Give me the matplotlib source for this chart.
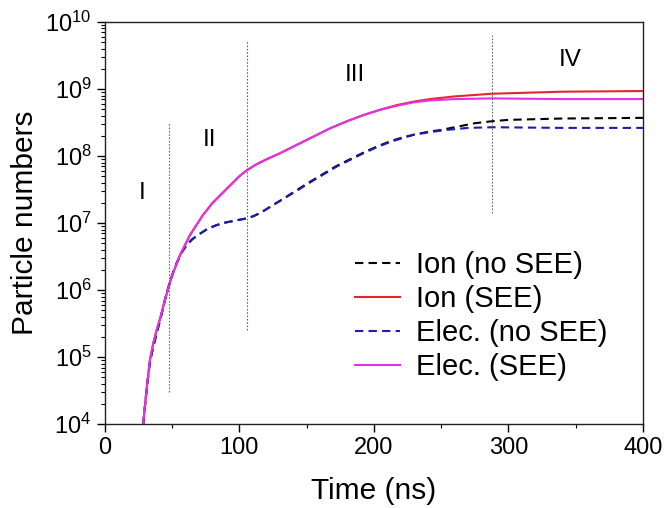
import numpy as np
import matplotlib
matplotlib.use("Agg")
import matplotlib.pyplot as plt
from matplotlib.ticker import MultipleLocator, LogLocator, NullFormatter

plt.rcParams['font.family'] = ['Liberation Sans', 'DejaVu Sans']

# Data (time in ns, log10 of particle numbers)
t_ion_nosee = [28.5, 30.2, 31.5, 33.5, 35.9, 38.4, 41.4, 44.6, 48.3, 51, 53.3, 57, 60.7, 65,
               70.6, 76, 83, 90, 95.2, 100, 105.4, 110, 115.4, 122.7, 130, 142.5, 152, 162,
               172, 182, 192, 202, 212, 221.6, 230, 240, 250, 260, 275, 288, 300, 340, 400]
lg_ion_nosee = [4.0, 4.35, 4.6, 4.93, 5.15, 5.35, 5.58, 5.85, 6.12, 6.28, 6.4, 6.56, 6.67, 6.76,
                6.84, 6.91, 6.97, 7.01, 7.03, 7.05, 7.07, 7.1, 7.15, 7.24, 7.33, 7.49, 7.61, 7.73,
                7.85, 7.95, 8.05, 8.14, 8.22, 8.28, 8.32, 8.36, 8.39, 8.43, 8.49, 8.52, 8.54, 8.56, 8.57]

t_ion_see = [28.5, 30.2, 31.5, 33.5, 35.9, 38.4, 41.4, 44.6, 49.6, 55.8, 63.2, 72.9, 80, 88,
             95, 100, 105, 112, 120, 130, 142, 155, 167, 180, 192, 204.5, 217, 229, 241.6,
             260, 288, 340, 400]
lg_ion_see = [4.0, 4.36, 4.61, 4.96, 5.2, 5.4, 5.6, 5.85, 6.2, 6.52, 6.82, 7.12, 7.3, 7.46,
              7.6, 7.7, 7.78, 7.87, 7.95, 8.04, 8.16, 8.29, 8.41, 8.52, 8.61, 8.69, 8.76, 8.81, 8.85,
              8.89, 8.93, 8.96, 8.97]

t_elec_nosee = [28.5, 30.2, 31.5, 33.5, 35.9, 38.4, 41.4, 44.6, 48.3, 51, 53.3, 57, 60.7, 65,
                70.6, 76, 83, 90, 95.2, 100, 105.4, 110, 115.4, 122.7, 130, 142.5, 152, 162,
                172, 182, 192, 202, 212, 221.6, 230, 239.2, 254, 270, 288, 340, 400]
lg_elec_nosee = [4.0, 4.35, 4.6, 4.93, 5.15, 5.35, 5.58, 5.85, 6.12, 6.28, 6.4, 6.56, 6.67, 6.76,
                 6.84, 6.91, 6.97, 7.01, 7.03, 7.05, 7.07, 7.1, 7.15, 7.24, 7.33, 7.48, 7.6, 7.72,
                 7.84, 7.94, 8.04, 8.13, 8.21, 8.27, 8.32, 8.35, 8.39, 8.42, 8.43, 8.42, 8.42]

t_elec_see = [28.5, 30.2, 31.5, 33.5, 35.9, 38.4, 41.4, 44.6, 49.6, 55.8, 63.2, 72.9, 80, 88,
              95, 100, 105, 112, 120, 130, 142, 155, 167, 180, 192, 204.5, 217, 229, 241.6,
              260, 288, 340, 400]
lg_elec_see = [4.0, 4.36, 4.61, 4.96, 5.2, 5.4, 5.6, 5.85, 6.2, 6.52, 6.82, 7.12, 7.3, 7.46,
               7.6, 7.7, 7.78, 7.87, 7.95, 8.04, 8.16, 8.29, 8.41, 8.52, 8.61, 8.69, 8.75, 8.8, 8.83,
               8.85, 8.86, 8.85, 8.85]

# Phase separators: (time, lower, upper)
sep_t = [48, 105.5, 288]
sep_lo = [3e4, 2.5e5, 1.4e7]
sep_hi = [3.2e8, 5.4e9, 6.3e9]

phase_labels = ["I", "II", "III", "IV"]
phase_t = [27.5, 78, 186, 346]
phase_y = [2.8e7, 1.75e8, 1.6e9, 2.7e9]

fig = plt.figure(figsize=(6.68, 5.08), dpi=100)
ax = fig.add_axes([0.157, 0.165, 0.8056, 0.7917])

lw = 1.5
dash = (0, (4, 2.5))
ax.plot(t_ion_nosee, 10 ** np.array(lg_ion_nosee), color='black', lw=lw,
        ls=dash, label='Ion (no SEE)')
ax.plot(t_ion_see, 10 ** np.array(lg_ion_see), color='#e3262b', lw=lw,
        label='Ion (SEE)')
ax.plot(t_elec_nosee, 10 ** np.array(lg_elec_nosee), color='#1c1cb4', lw=lw,
        ls=dash, label='Elec. (no SEE)')
ax.plot(t_elec_see, 10 ** np.array(lg_elec_see), color='#e233e2', lw=lw,
        label='Elec. (SEE)')

for x, lo, hi in zip(sep_t, sep_lo, sep_hi):
    ax.vlines(x, lo, hi, colors='#666666', linestyles=(0, (1.5, 1.5)), lw=0.8)

for lab, x, y in zip(phase_labels, phase_t, phase_y):
    ax.text(x, y, lab, fontsize=17.5, ha='center', va='center')

ax.set_yscale('log')
ax.set_xlim(0, 400)
ax.set_ylim(1e4, 1e10)
ax.xaxis.set_major_locator(MultipleLocator(100))
ax.xaxis.set_minor_locator(MultipleLocator(50))
ax.yaxis.set_major_locator(LogLocator(base=10, numticks=20))
ax.yaxis.set_minor_locator(LogLocator(base=10, subs=np.arange(2, 10), numticks=100))
ax.yaxis.set_minor_formatter(NullFormatter())

ax.tick_params(which='major', direction='out', length=6, width=1, labelsize=17)
ax.tick_params(which='minor', direction='out', length=3, width=0.8)
for s in ax.spines.values():
    s.set_linewidth(1.0)
    s.set_color('#222222')

ax.set_xlabel('Time (ns)', fontsize=21.5, labelpad=13)
ax.set_ylabel('Particle numbers', fontsize=21.5, labelpad=5)

leg = ax.legend(loc='upper left', bbox_to_anchor=(0.465, 0.43), frameon=False,
                fontsize=21, handlelength=1.55, handletextpad=0.55, labelspacing=0.2,
                borderaxespad=0, borderpad=0)

fig.savefig('out.png', dpi=100)
